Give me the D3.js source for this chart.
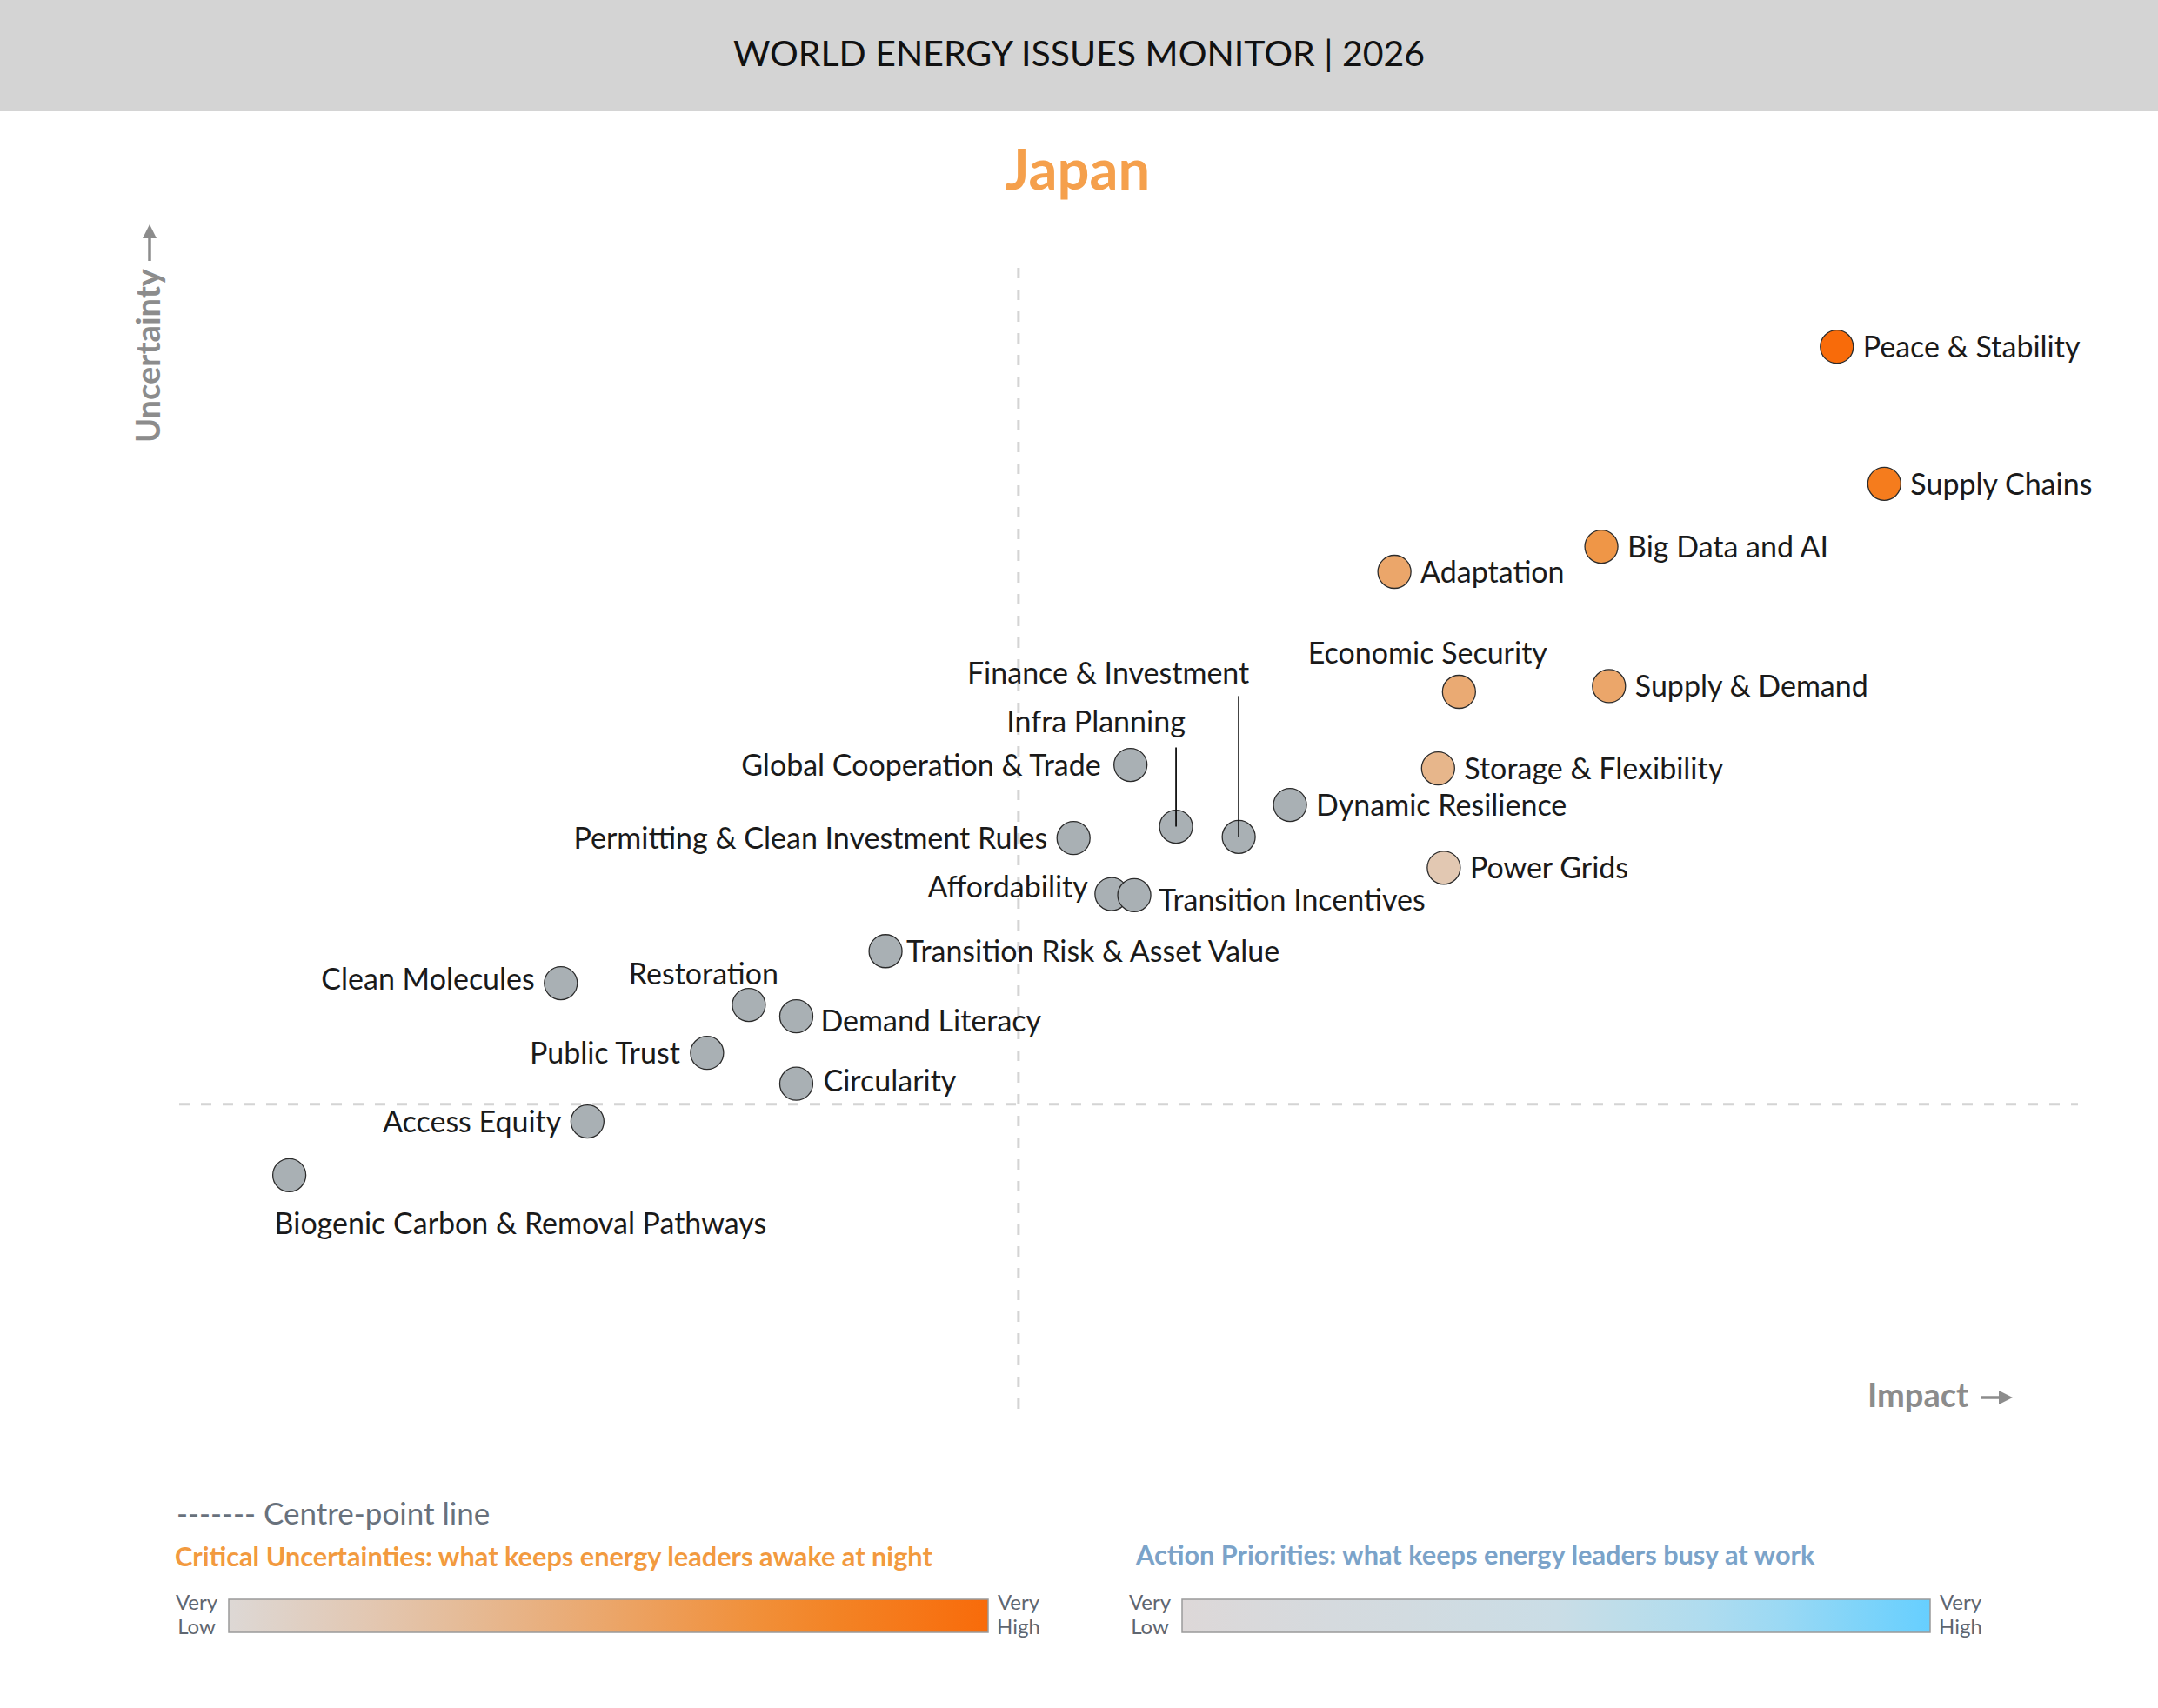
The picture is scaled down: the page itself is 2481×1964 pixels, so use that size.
<!DOCTYPE html>
<html>
<head>
<meta charset="utf-8">
<script src="https://cdn.jsdelivr.net/npm/d3@7"></script>
<style>
  html, body { margin: 0; padding: 0; background: #fff; }
  svg { display: block; font-family: Lato, "Open Sans", sans-serif; }
</style>
</head>
<body>
<div id="chart"></div>
<script>
// Issues plotted on the impact / uncertainty map
const issues = [
  "Peace & Stability", "Supply Chains", "Big Data and AI", "Adaptation",
  "Economic Security", "Supply & Demand", "Storage & Flexibility", "Dynamic Resilience",
  "Power Grids", "Finance & Investment", "Infra Planning", "Global Cooperation & Trade",
  "Permitting & Clean Investment Rules", "Affordability", "Transition Incentives",
  "Transition Risk & Asset Value", "Clean Molecules", "Restoration", "Demand Literacy",
  "Public Trust", "Circularity", "Access Equity", "Biogenic Carbon & Removal Pathways"
];
const impact = [
  87.3, 89.8, 74.9, 64.0,
  67.4, 75.3, 66.3, 58.5,
  66.6, 55.8, 52.5, 50.1,
  47.1, 49.1, 50.3,
  37.2, 20.1, 30.0, 32.5,
  27.8, 32.5, 21.5, 5.8
];
const uncertainty = [
  93.1, 81.1, 75.6, 73.4,
  62.9, 63.4, 56.2, 53.0,
  47.5, 50.2, 51.1, 56.5,
  50.1, 45.2, 45.1,
  40.2, 37.4, 35.5, 34.5,
  31.3, 28.6, 25.3, 20.6
];
// critical-uncertainty strength (0 = very low, 1 = very high); null = not a critical uncertainty
const criticality = [
  1.0, 0.86, 0.64, 0.5,
  0.46, 0.5, 0.36, null,
  0.18, null, null, null,
  null, null, null,
  null, null, null, null,
  null, null, null, null
];
const centreImpact = 44.2;
const centreUncertainty = 26.8;
const legendEnds = ["Very", "Low", "Very", "High"];

// label placement (layout only)
const labelLayout = {
  "Economic Security": { anchor: "middle", dx: -36, dy: -32 },
  "Global Cooperation & Trade": { anchor: "end", dx: -34, dy: 0 },
  "Permitting & Clean Investment Rules": { anchor: "end", dx: -30, dy: 0 },
  "Affordability": { anchor: "end", dx: -27, dy: -8 },
  "Transition Incentives": { anchor: "start", dx: 28, dy: 5 },
  "Transition Risk & Asset Value": { anchor: "start", dx: 24, dy: 0 },
  "Clean Molecules": { anchor: "end", dx: -30, dy: -5 },
  "Restoration": { anchor: "middle", dx: -52, dy: -24 },
  "Demand Literacy": { anchor: "start", dx: 28, dy: 5 },
  "Public Trust": { anchor: "end", dx: -31, dy: 0 },
  "Circularity": { anchor: "start", dx: 31, dy: -3 },
  "Access Equity": { anchor: "end", dx: -30, dy: 0 },
  "Biogenic Carbon & Removal Pathways": { anchor: "start", dx: -17, dy: 55 },
  "Finance & Investment": { anchor: "middle", dx: -150, dy: -176, leader: -162 },
  "Infra Planning": { anchor: "middle", dx: -92, dy: -109, leader: -91 }
};

const W = 2481, H = 1964;
const svg = d3.select("#chart").append("svg")
  .attr("width", W).attr("height", H)
  .attr("viewBox", `0 0 ${W} ${H}`);

// header band
svg.append("rect").attr("x", 0).attr("y", 0).attr("width", W).attr("height", 128).attr("fill", "#d4d4d4");
svg.append("text")
  .attr("x", W / 2).attr("y", 76)
  .attr("text-anchor", "middle")
  .attr("font-size", 41).attr("fill", "#111")
  .text("WORLD ENERGY ISSUES MONITOR | 2026");

svg.append("text")
  .attr("x", 1239).attr("y", 218)
  .attr("text-anchor", "middle")
  .attr("font-size", 65).attr("font-weight", 700).attr("fill", "#f5a04c")
  .text("Japan");

// scales
const x = d3.scaleLinear().domain([0, 100]).range([206, 2389]);
const y = d3.scaleLinear().domain([0, 100]).range([1622, 308]);
const critColour = d3.scaleLinear()
  .domain([0, 0.25, 0.5, 0.75, 1])
  .range(["#ddd8d5", "#e4c2a5", "#eba66a", "#f2892c", "#f86b0a"]);
const actionColour = d3.scaleLinear()
  .domain([0, 0.5, 0.75, 1])
  .range(["#ddd8d8", "#cadde6", "#a8dcf1", "#66cfff"]);

// centre-point lines
svg.append("line")
  .attr("x1", x(centreImpact)).attr("x2", x(centreImpact))
  .attr("y1", y(100)).attr("y2", y(0))
  .attr("stroke", "#d4d4d4").attr("stroke-width", 3).attr("stroke-dasharray", "12,13");
svg.append("line")
  .attr("x1", x(0)).attr("x2", x(100))
  .attr("y1", y(centreUncertainty)).attr("y2", y(centreUncertainty))
  .attr("stroke", "#d4d4d4").attr("stroke-width", 3).attr("stroke-dasharray", "12,13");

// axis titles
const axisGrey = "#8c8c8c";
svg.append("text")
  .attr("transform", "translate(184,509) rotate(-90)")
  .attr("font-size", 38).attr("font-weight", 700).attr("fill", axisGrey)
  .text("Uncertainty");
svg.append("path")
  .attr("d", "M172,300 L172,262")
  .attr("stroke", axisGrey).attr("stroke-width", 3.5);
svg.append("path")
  .attr("d", "M172,258 L164,274 L180,274 Z")
  .attr("fill", axisGrey);

svg.append("text")
  .attr("x", 2147).attr("y", 1618)
  .attr("font-size", 38).attr("font-weight", 700).attr("fill", axisGrey)
  .text("Impact");
svg.append("path")
  .attr("d", "M2277,1607 L2304,1607")
  .attr("stroke", axisGrey).attr("stroke-width", 3.5);
svg.append("path")
  .attr("d", "M2314,1607 L2298,1599 L2298,1615 Z")
  .attr("fill", axisGrey);

// points
const pts = issues.map((name, i) => ({
  name, impact: impact[i], uncertainty: uncertainty[i], crit: criticality[i]
}));

const g = svg.append("g");
g.selectAll("circle.issue")
  .data(pts)
  .join("circle")
  .attr("class", "issue")
  .attr("cx", d => x(d.impact))
  .attr("cy", d => y(d.uncertainty))
  .attr("r", 19)
  .attr("fill", d => d.crit == null ? "#a9b0b4" : critColour(d.crit))
  .attr("stroke", "#2b2b2b")
  .attr("stroke-width", 1.3);

// leader lines
g.selectAll("line.leader")
  .data(pts.filter(d => labelLayout[d.name] && labelLayout[d.name].leader))
  .join("line")
  .attr("class", "leader")
  .attr("x1", d => x(d.impact)).attr("x2", d => x(d.impact))
  .attr("y1", d => y(d.uncertainty) + labelLayout[d.name].leader)
  .attr("y2", d => y(d.uncertainty))
  .attr("stroke", "#111").attr("stroke-width", 1.8);

g.selectAll("text.label")
  .data(pts)
  .join("text")
  .attr("class", "label")
  .attr("x", d => x(d.impact) + (labelLayout[d.name] ? labelLayout[d.name].dx : 30))
  .attr("y", d => y(d.uncertainty) + (labelLayout[d.name] ? labelLayout[d.name].dy : 0))
  .attr("dy", d => (labelLayout[d.name] && labelLayout[d.name].anchor === "middle") ? 0 : "0.36em")
  .attr("text-anchor", d => labelLayout[d.name] ? labelLayout[d.name].anchor : "start")
  .attr("font-size", 34)
  .attr("fill", "#1a1a1a")
  .text(d => d.name);

// legend
svg.append("text")
  .attr("x", 203).attr("y", 1753)
  .attr("font-size", 35).attr("fill", "#68717c")
  .text("------- Centre-point line");

const defs = svg.append("defs");
function gradient(id, scale) {
  const lg = defs.append("linearGradient").attr("id", id);
  d3.range(0, 1.0001, 0.1).forEach(t => {
    lg.append("stop").attr("offset", `${t * 100}%`).attr("stop-color", scale(t));
  });
}
gradient("critGrad", critColour);
gradient("actGrad", actionColour);

const legends = [
  { title: "Critical Uncertainties: what keeps energy leaders awake at night", colour: "#f29a3f",
    tx: 201, ty: 1801, x0: 263, x1: 1136, grad: "critGrad" },
  { title: "Action Priorities: what keeps energy leaders busy at work", colour: "#7ba3c9",
    tx: 1306, ty: 1799, x0: 1359, x1: 2219, grad: "actGrad" }
];
legends.forEach(l => {
  svg.append("text")
    .attr("x", l.tx).attr("y", l.ty)
    .attr("font-size", 30.7).attr("font-weight", 700).attr("fill", l.colour)
    .text(l.title);
  svg.append("rect")
    .attr("x", l.x0).attr("y", 1839).attr("width", l.x1 - l.x0).attr("height", 38)
    .attr("fill", `url(#${l.grad})`)
    .attr("stroke", "#9a9a9a").attr("stroke-width", 1.5);
  [[l.x0 - 37, 0], [l.x1 + 35, 2]].forEach(([cx, k]) => {
    svg.append("text").attr("x", cx).attr("y", 1851).attr("text-anchor", "middle")
      .attr("font-size", 24).attr("fill", "#5f6670").text(legendEnds[k]);
    svg.append("text").attr("x", cx).attr("y", 1879).attr("text-anchor", "middle")
      .attr("font-size", 24).attr("fill", "#5f6670").text(legendEnds[k + 1]);
  });
});
</script>
</body>
</html>
